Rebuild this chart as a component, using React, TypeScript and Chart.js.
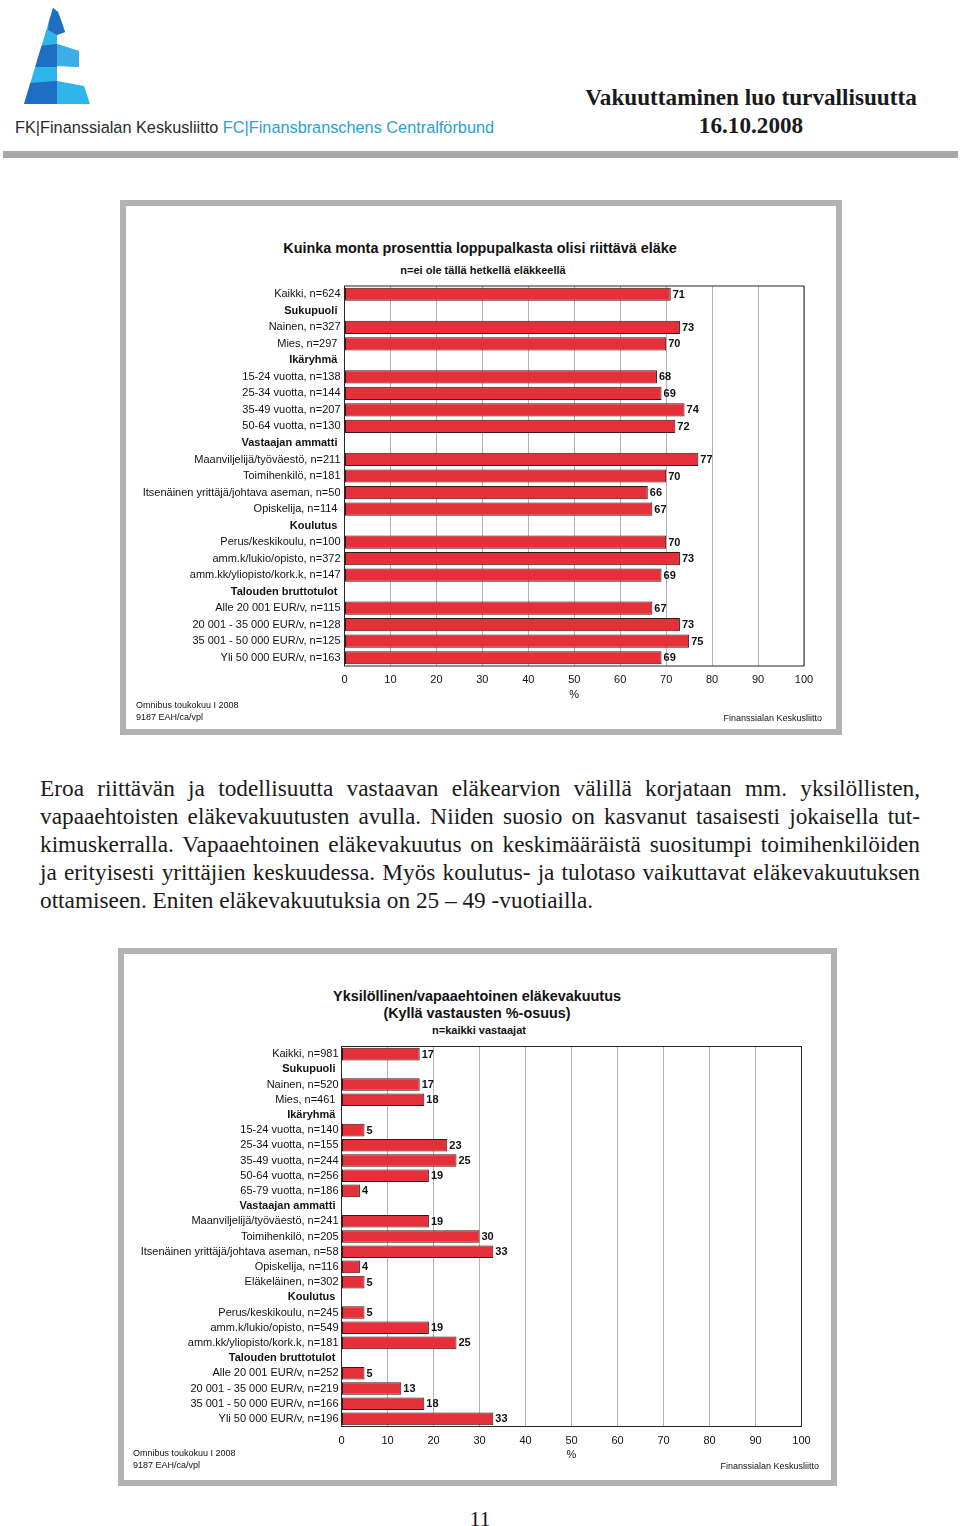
import React, { useEffect, useRef } from "react";
import { Chart, registerables } from "chart.js";

Chart.register(...registerables);

const SANS = '"Liberation Sans", Arial, Helvetica, sans-serif';
const SERIF = '"Liberation Serif", "Times New Roman", Times, serif';

// ---------- Chart 1 data ----------
const chart1Categories = [
  "Kaikki, n=624",
  "Sukupuoli ",
  "Nainen, n=327",
  "Mies, n=297 ",
  "Ikäryhmä ",
  "15-24 vuotta, n=138",
  "25-34 vuotta, n=144",
  "35-49 vuotta, n=207",
  "50-64 vuotta, n=130",
  "Vastaajan ammatti ",
  "Maanviljelijä/työväestö, n=211",
  "Toimihenkilö, n=181",
  "Itsenäinen yrittäjä/johtava aseman, n=50",
  "Opiskelija, n=114 ",
  "Koulutus ",
  "Perus/keskikoulu, n=100",
  "amm.k/lukio/opisto, n=372",
  "amm.kk/yliopisto/kork.k, n=147",
  "Talouden bruttotulot ",
  "Alle 20 001 EUR/v, n=115",
  "20 001 - 35 000 EUR/v, n=128",
  "35 001 - 50 000 EUR/v, n=125",
  "Yli 50 000 EUR/v, n=163",
];
const chart1Values: (number | null)[] = [
  71, null, 73, 70, null, 68, 69, 74, 72, null, 77, 70, 66, 67, null, 70, 73, 69, null, 67, 73, 75, 69,
];

// ---------- Chart 2 data ----------
const chart2Categories = [
  "Kaikki, n=981",
  "Sukupuoli ",
  "Nainen, n=520",
  "Mies, n=461 ",
  "Ikäryhmä ",
  "15-24 vuotta, n=140",
  "25-34 vuotta, n=155",
  "35-49 vuotta, n=244",
  "50-64 vuotta, n=256",
  "65-79 vuotta, n=186",
  "Vastaajan ammatti ",
  "Maanviljelijä/työväestö, n=241",
  "Toimihenkilö, n=205",
  "Itsenäinen yrittäjä/johtava aseman, n=58",
  "Opiskelija, n=116",
  "Eläkeläinen, n=302",
  "Koulutus ",
  "Perus/keskikoulu, n=245",
  "amm.k/lukio/opisto, n=549",
  "amm.kk/yliopisto/kork.k, n=181",
  "Talouden bruttotulot ",
  "Alle 20 001 EUR/v, n=252",
  "20 001 - 35 000 EUR/v, n=219",
  "35 001 - 50 000 EUR/v, n=166",
  "Yli 50 000 EUR/v, n=196",
];
const chart2Values: (number | null)[] = [
  17, null, 17, 18, null, 5, 23, 25, 19, 4, null, 19, 30, 33, 4, 5, null, 5, 19, 25, null, 5, 13, 18, 33,
];

const xTickValues = [0, 10, 20, 30, 40, 50, 60, 70, 80, 90, 100];

const paragraphLines = [
  "Eroa riittävän ja todellisuutta vastaavan eläkearvion välillä korjataan mm. yksilöllisten,",
  "vapaaehtoisten eläkevakuutusten avulla. Niiden suosio on kasvanut tasaisesti jokaisella tut-",
  "kimuskerralla. Vapaaehtoinen eläkevakuutus on keskimääräistä suositumpi toimihenkilöiden",
  "ja erityisesti yrittäjien keskuudessa. Myös koulutus- ja tulotaso vaikuttavat eläkevakuutuksen",
  "ottamiseen. Eniten eläkevakuutuksia on 25 – 49 -vuotiailla.",
];

const framePlugin = {
  id: "plotFrame",
  afterDraw(chart: any) {
    const { ctx, chartArea: a } = chart;
    ctx.save();
    ctx.strokeStyle = "#262626";
    ctx.lineWidth = 1;
    ctx.strokeRect(a.left, a.top, a.right - a.left, a.bottom - a.top);
    ctx.restore();
  },
};

const valueLabelPlugin = {
  id: "valueLabels",
  afterDatasetsDraw(chart: any) {
    const { ctx } = chart;
    const meta = chart.getDatasetMeta(0);
    const data = chart.data.datasets[0].data;
    ctx.save();
    ctx.font = `bold 11px ${SANS}`;
    ctx.fillStyle = "#111";
    ctx.textAlign = "left";
    ctx.textBaseline = "middle";
    meta.data.forEach((el: any, i: number) => {
      const v = data[i];
      if (v == null) return;
      ctx.fillText(String(Math.round(v)), el.x + 2, el.y + 0.5);
    });
    ctx.restore();
  },
};

type BarProps = {
  categories: string[];
  values: (number | null)[];
  left: number;
  top: number;
  width: number;
  height: number;
  yWidth: number;
  padTop: number;
  padRight: number;
  xHeight: number;
  barPct: number;
  tickPad: number;
  yPad: number;
};

function HBarChart(p: BarProps) {
  const ref = useRef<HTMLCanvasElement>(null);
  useEffect(() => {
    if (!ref.current) return;
    const chart = new Chart(ref.current, {
      type: "bar",
      data: {
        labels: p.categories,
        datasets: [
          {
            data: p.values as any,
            backgroundColor: "#e5303a",
            borderColor: "#3a1517",
            borderWidth: 1,
            borderSkipped: false,
            barPercentage: p.barPct,
            categoryPercentage: 1,
          },
        ],
      },
      options: {
        indexAxis: "y",
        responsive: false,
        maintainAspectRatio: false,
        animation: false,
        layout: { padding: { top: p.padTop, right: p.padRight, left: 0, bottom: 0 } },
        plugins: { legend: { display: false }, tooltip: { enabled: false } },
        scales: {
          x: {
            type: "linear",
            min: 0,
            max: 100,
            afterBuildTicks: (scale: any) => {
              scale.ticks = xTickValues.map((v) => ({ value: v }));
            },
            ticks: {
              padding: p.tickPad,
              color: "#111",
              font: { family: SANS, size: 11 },
            },
            grid: { color: "#b4b4b4", lineWidth: 1, drawTicks: false },
            border: { display: false },
            title: {
              display: true,
              text: "%",
              color: "#111",
              font: { family: SANS, size: 11 },
              padding: { top: 0, bottom: 3 },
            },
            afterFit: (scale: any) => {
              scale.height = p.xHeight;
              scale.paddingLeft = 0;
              scale.paddingRight = 0;
            },
          },
          y: {
            type: "category",
            ticks: {
              autoSkip: false,
              padding: p.yPad,
              color: "#111",
              font: (ctx: any) => ({
                family: SANS,
                size: 11,
                weight: p.values[ctx.index] === null ? "bold" : "normal",
              }),
            },
            grid: { display: false, drawTicks: false },
            border: { display: false },
            afterFit: (scale: any) => {
              scale.width = p.yWidth;
              scale.paddingTop = 0;
              scale.paddingBottom = 0;
            },
          },
        },
      } as any,
      plugins: [framePlugin, valueLabelPlugin],
    });
    return () => chart.destroy();
  }, []);
  return (
    <canvas
      ref={ref}
      width={p.width}
      height={p.height}
      style={{ position: "absolute", left: p.left, top: p.top, width: p.width, height: p.height }}
    />
  );
}

type TxtProps = {
  x: number;
  y: number;
  text: React.ReactNode;
  size: number;
  weight?: string;
  family?: string;
  align?: "left" | "center" | "right";
  color?: string;
};

function Txt({ x, y, text, size, weight = "normal", family = SANS, align = "left", color = "#111" }: TxtProps) {
  const L = Math.round(size * 1.3);
  const w = 900;
  let left = x;
  if (align === "center") left = x - w / 2;
  if (align === "right") left = x - w;
  return (
    <div
      style={{
        position: "absolute",
        left,
        top: y - L / 2,
        width: w,
        height: L,
        lineHeight: `${L}px`,
        fontSize: size,
        fontWeight: weight as any,
        fontFamily: family,
        color,
        textAlign: align,
        whiteSpace: "nowrap",
      }}
    >
      {text}
    </div>
  );
}

function Logo() {
  const light = "#2db5ec";
  const dark = "#1e6fc3";
  const prong = "#3aaee6";
  const sil = "53,8 58,12 62,23 65,32 57,35 57,44 79,51 79,67 57,66 57,81 84,86 90,104 24,104";
  return (
    <svg width={100} height={112} style={{ position: "absolute", left: 0, top: 0 }}>
      <defs>
        <clipPath id="logoClip">
          <polygon points={sil} />
        </clipPath>
      </defs>
      <g clipPath="url(#logoClip)">
        <rect x={0} y={0} width={100} height={112} fill={light} />
        <polygon points="51,0 100,0 100,34 57,35 48,30" fill={dark} />
        <polygon points="0,50 57,44 57,67 0,67" fill={dark} />
        <polygon points="57,44 100,57 100,68 57,66" fill={prong} />
        <polygon points="0,85 57,81 57,106 0,106" fill={dark} />
      </g>
    </svg>
  );
}

export default function App() {
  useEffect(() => {
    document.body.style.margin = "0";
  }, []);
  return (
    <div
      style={{
        position: "absolute",
        left: 0,
        top: 0,
        width: 960,
        height: 1526,
        background: "#fff",
        overflow: "hidden",
        fontFamily: SANS,
      }}
    >
      <Logo />
      <Txt
        x={15}
        y={127}
        size={16.3}
        family={SANS}
        color="#2a2a2a"
        text={
          <span>
            FK|Finanssialan Keskusliitto <span style={{ color: "#2a9fd8" }}>FC|Finansbranschens Centralförbund</span>
          </span>
        }
      />
      <Txt x={751} y={97} size={23.2} weight="bold" family={SERIF} align="center" color="#1a1a1a" text="Vakuuttaminen luo turvallisuutta" />
      <Txt x={751} y={125} size={23.2} weight="bold" family={SERIF} align="center" color="#1a1a1a" text="16.10.2008" />
      <div style={{ position: "absolute", left: 3, top: 151, width: 955, height: 7, background: "#a7a7a7" }} />

      {/* Chart 1 frame */}
      <div
        style={{
          position: "absolute",
          left: 120,
          top: 200,
          width: 722,
          height: 535,
          border: "6px solid #b2b2b2",
          boxSizing: "border-box",
          background: "#fff",
        }}
      />
      <Txt x={480} y={248} size={14.4} weight="bold" align="center" text="Kuinka monta prosenttia loppupalkasta olisi riittävä eläke" />
      <Txt x={483} y={270} size={11} weight="bold" align="center" text="n=ei ole tällä hetkellä eläkkeellä" />
      <HBarChart
        categories={chart1Categories}
        values={chart1Values}
        left={130}
        top={280}
        width={700}
        height={425}
        yWidth={214.5}
        padTop={6}
        padRight={26}
        xHeight={39}
        barPct={0.8}
        tickPad={7}
        yPad={4}
      />
      <Txt x={136} y={705} size={9} text="Omnibus toukokuu I 2008" />
      <Txt x={136} y={717} size={9} text="9187 EAH/ca/vpl" />
      <Txt x={822} y={718} size={9} align="right" text="Finanssialan Keskusliitto" />

      {/* Paragraph */}
      {paragraphLines.map((line, i) => (
        <div
          key={i}
          style={{
            position: "absolute",
            left: 40,
            top: 788 + i * 28 - 14,
            width: 880,
            fontFamily: SERIF,
            fontSize: 23.3,
            lineHeight: "28px",
            color: "#1a1a1a",
            whiteSpace: "nowrap",
            textAlign: "justify",
            textAlignLast: i === paragraphLines.length - 1 ? "left" : "justify",
          } as any}
        >
          {line}
        </div>
      ))}

      {/* Chart 2 frame */}
      <div
        style={{
          position: "absolute",
          left: 118,
          top: 948,
          width: 719,
          height: 538,
          border: "6px solid #b2b2b2",
          boxSizing: "border-box",
          background: "#fff",
        }}
      />
      <Txt x={477} y={996} size={14.4} weight="bold" align="center" text="Yksilöllinen/vapaaehtoinen eläkevakuutus" />
      <Txt x={477} y={1013} size={14.4} weight="bold" align="center" text="(Kyllä vastausten %-osuus)" />
      <Txt x={479} y={1030} size={11} weight="bold" align="center" text="n=kaikki vastaajat" />
      <HBarChart
        categories={chart2Categories}
        values={chart2Values}
        left={128}
        top={1040}
        width={700}
        height={425}
        yWidth={213.5}
        padTop={6.5}
        padRight={26.5}
        xHeight={38.5}
        barPct={0.83}
        tickPad={7.5}
        yPad={3}
      />
      <Txt x={133} y={1453} size={9} text="Omnibus toukokuu I 2008" />
      <Txt x={133} y={1465} size={9} text="9187 EAH/ca/vpl" />
      <Txt x={819} y={1466} size={9} align="right" text="Finanssialan Keskusliitto" />

      <Txt x={480} y={1518} size={22} family={SERIF} align="center" color="#1a1a1a" text="11" />
    </div>
  );
}
